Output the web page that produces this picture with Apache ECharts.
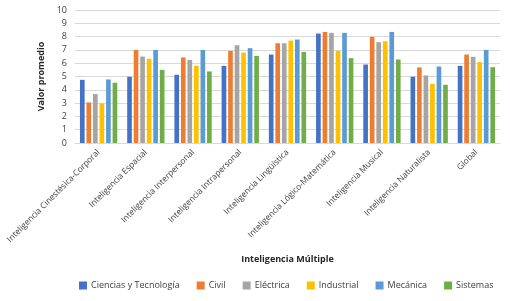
<!DOCTYPE html>
<html>
<head>
<meta charset="utf-8">
<script src="https://cdn.jsdelivr.net/npm/echarts@6/dist/echarts.min.js"></script>
<style>
  html, body { margin: 0; padding: 0; background: #fff; }
  #chart { width: 510px; height: 301px; }
</style>
</head>
<body>
<div id="chart"></div>
<script>
const categories = [
  'Inteligencia Cinestésica-Corporal',
  'Inteligencia Espacial',
  'Inteligencia Interpersonal',
  'Inteligencia Intrapersonal',
  'Inteligencia Lingüística',
  'Inteligencia Lógico-Matemática',
  'Inteligencia Musical',
  'Inteligencia Naturalista',
  'Global'
];
const seriesNames = ['Ciencias y Tecnología', 'Civil', 'Eléctrica', 'Industrial', 'Mecánica', 'Sistemas'];
const colors = ['#4472C4', '#ED7D31', '#A5A5A5', '#FFC000', '#5B9BD5', '#70AD47'];

const cienciasTec = [4.75, 4.98, 5.13, 5.8, 6.65, 8.23, 5.9, 4.98, 5.8];
const civil       = [3.05, 7.0, 6.43, 6.93, 7.5, 8.35, 7.98, 5.68, 6.65];
const electrica   = [3.68, 6.5, 6.25, 7.35, 7.5, 8.28, 7.58, 5.08, 6.48];
const industrial  = [2.98, 6.33, 5.8, 6.8, 7.7, 6.93, 7.65, 4.45, 6.08];
const mecanica    = [4.78, 7.0, 7.0, 7.13, 7.78, 8.28, 8.35, 5.75, 7.0];
const sistemas    = [4.53, 5.5, 5.38, 6.55, 6.85, 6.38, 6.28, 4.38, 5.7];
const values = [cienciasTec, civil, electrica, industrial, mecanica, sistemas];

const font = 'Open Sans';
const chart = echarts.init(document.getElementById('chart'));

chart.setOption({
  animation: false,
  textStyle: { fontFamily: font },
  grid: { left: 75, right: 10, top: 10, bottom: 158 },
  legend: {
    bottom: 6, left: 74,
    itemWidth: 8, itemHeight: 8, itemGap: 17,
    icon: 'rect',
    textStyle: { fontSize: 9, color: '#404040', fontFamily: font, padding: [0, 0, 0, -1] }
  },
  xAxis: {
    type: 'category',
    data: categories,
    name: 'Inteligencia Múltiple',
    nameLocation: 'middle',
    nameGap: 112,
    nameTextStyle: { fontSize: 9, fontWeight: 'bold', color: '#262626' },
    axisLine: { lineStyle: { color: '#d9d9d9' } },
    axisTick: { show: false },
    axisLabel: { rotate: 45, fontSize: 8.4, color: '#404040', margin: 8, interval: 0 }
  },
  yAxis: {
    type: 'value',
    min: 0, max: 10, interval: 1,
    name: 'Valor promedio',
    nameLocation: 'middle',
    nameGap: 26,
    nameTextStyle: { fontSize: 9, fontWeight: 'bold', color: '#262626' },
    axisLine: { show: false },
    axisTick: { show: false },
    axisLabel: { fontSize: 9, color: '#404040', margin: 8 },
    splitLine: { lineStyle: { color: '#d9d9d9' } }
  },
  series: seriesNames.map((name, i) => ({
    name,
    type: 'bar',
    data: values[i],
    itemStyle: { color: colors[i] },
    barGap: '40%',
    barCategoryGap: '21%'
  }))
});
</script>
</body>
</html>
